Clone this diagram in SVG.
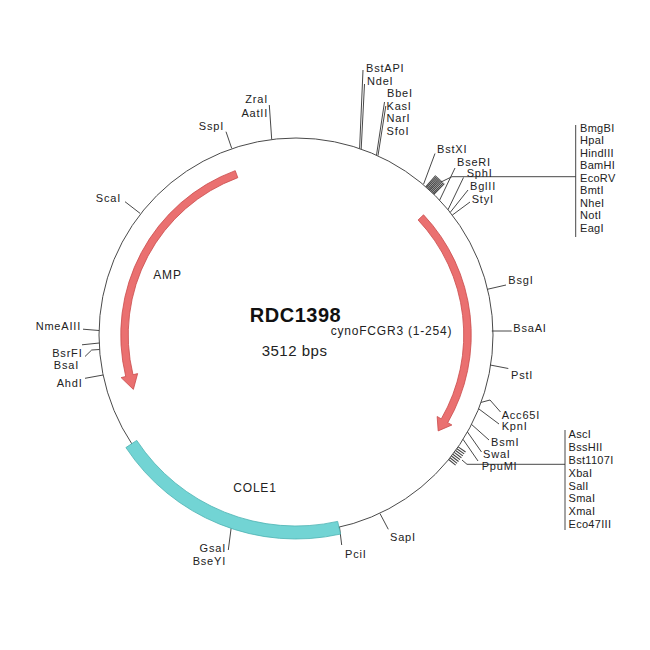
<svg xmlns="http://www.w3.org/2000/svg" width="650" height="650" viewBox="0 0 650 650">
<style>
.bg{fill:#ffffff}
.bb{fill:none;stroke:#4a4a4a;stroke-width:1}
.tk{fill:none;stroke:#333333;stroke-width:0.9}
.cl{fill:none;stroke:#444444;stroke-width:1.1}
.lb{font-family:"Liberation Sans",Arial,sans-serif;font-size:11px;fill:#222222;letter-spacing:0.8px}
.ls{font-family:"Liberation Sans",Arial,sans-serif;font-size:11px;fill:#222222;letter-spacing:0.3px}
.ft{font-family:"Liberation Sans",Arial,sans-serif;font-size:12px;fill:#222222;letter-spacing:0.8px}
.arr{fill:#ea7070;stroke:#c94a4a;stroke-width:0.8}
.ori{fill:#72d4d4;stroke:#4db3b3;stroke-width:0.8}
.end{text-anchor:end}
</style>
<rect class="bg" x="0" y="0" width="650" height="650"/>
<g id="backbone">
<circle class="bb" cx="296" cy="335" r="197"/>
</g>
<g id="connectors">
<path class="tk" d="M231.7,148.3 L226,131.7"/>
<path class="tk" d="M271.7,139.2 L269.3,105"/>
<path class="tk" d="M359.6,148.4 L363,70"/>
<path class="tk" d="M361.2,149 L364.5,84"/>
<path class="tk" d="M376.5,155 L384.5,102"/>
<path class="tk" d="M378,155.6 L385.8,106"/>
<path class="tk" d="M423.6,184.1 L435,153.5"/>
<path class="cl" d="M425.77,186.77 L435.64,175.49 M426.79,187.68 L436.75,176.47 M427.82,188.61 L437.85,177.46 M428.84,189.52 L438.95,178.44 M429.84,190.46 L440.03,179.46 M430.85,191.39 L441.11,180.45 M431.85,192.33 L442.2,181.47 M432.86,193.3 L443.28,182.51 M433.84,194.24 L444.34,183.53"/>
<path class="tk" d="M441,182 L452,176.7 L575.7,176.7 M575.7,125 L575.7,237"/>
<path class="tk" d="M439.6,200.2 L455,168"/>
<path class="tk" d="M448,209.7 L463.5,177.5"/>
<path class="tk" d="M450.2,212.4 L468,190"/>
<path class="tk" d="M452.3,215.1 L470,202"/>
<path class="tk" d="M487.3,289.3 L506,285"/>
<path class="tk" d="M491.8,331 L511.7,331"/>
<path class="tk" d="M490.2,365 L508.3,368.5"/>
<path class="tk" d="M481.1,402.4 L490,400 L500.5,412"/>
<path class="tk" d="M478.7,408.8 L499,424"/>
<path class="tk" d="M471.5,424.4 L489,440"/>
<path class="tk" d="M467.5,432 L481.5,452"/>
<path class="tk" d="M463.1,439.4 L478,461"/>
<path class="cl" d="M458.15,446.86 L465.56,451.97 M456.85,448.73 L464.2,453.92 M455.55,450.56 L462.84,455.84 M454.21,452.39 L461.44,457.76 M452.83,454.2 L459.98,459.65 M451.45,456 L458.55,461.53 M450.05,457.77 L457.09,463.38 M448.66,459.5 L455.63,465.19"/>
<path class="tk" d="M462,460 L467,464.3 L565,464.3 M565,430 L565,530"/>
<path class="tk" d="M140,213.3 L125,201.7"/>
<path class="tk" d="M99.1,330.5 L83,329.2"/>
<path class="tk" d="M99.3,343 L82,344.8"/>
<path class="tk" d="M99.5,349.5 L91.7,350 L85,356.5"/>
<path class="tk" d="M103.1,375 L85,378.3"/>
<path class="tk" d="M232,521.3 L228.3,550"/>
<path class="tk" d="M339.5,527.2 L341.7,545"/>
<path class="tk" d="M380,513.6 L388.3,529.3"/>
</g>
<g id="AMP">
<path class="arr" d="M235.21,170.63 A175.25,175.25 0 0 0 125.73,376.5 L121.11,377.62 L133.37,389.42 L137.63,373.6 L133.01,374.72 A167.75,167.75 0 0 1 237.81,177.67 Z"/>
<text class="ft" x="153.3" y="279.3">AMP</text>
</g>
<g id="cynoFCGR3">
<path class="arr" d="M423.55,214.81 A175.25,175.25 0 0 1 447.77,422.63 L451.88,425 L438.17,430.9 L437.16,416.5 L441.27,418.88 A167.75,167.75 0 0 0 418.09,219.96 Z"/>
<text class="ft" x="330.7" y="335">cynoFCGR3 (1-254)</text>
</g>
<g id="COLE1">
<path class="ori" d="M340.49,534.08 A204,204 0 0 1 125.88,447.59 L136.73,440.41 A191,191 0 0 0 337.66,521.4 Z"/>
<text class="ft" x="233.3" y="491.7">COLE1</text>
</g>
<g id="title">
<text x="295.5" y="321.7" text-anchor="middle" style="font-family:'Liberation Sans',Arial,sans-serif;font-size:20px;font-weight:bold;fill:#111111;letter-spacing:0.5px">RDC1398</text>
<text x="261.7" y="355.7" style="font-family:'Liberation Sans',Arial,sans-serif;font-size:15px;fill:#222222;letter-spacing:0.5px">3512 bps</text>
</g>
<g id="site-SspI"><text class="lb end" x="224" y="129.5">SspI</text></g>
<g id="site-ZraI-AatII"><text class="lb end" x="268" y="103">ZraI</text><text class="lb end" x="268" y="116.5">AatII</text></g>
<g id="site-BstAPI-NdeI"><text class="lb" x="366" y="72">BstAPI</text><text class="lb" x="367" y="84.5">NdeI</text></g>
<g id="site-BbeI-KasI-NarI-SfoI"><text class="lb" x="387" y="97">BbeI</text><text class="lb" x="386.5" y="110">KasI</text><text class="lb" x="386.5" y="122.3">NarI</text><text class="lb" x="386.5" y="135">SfoI</text></g>
<g id="site-BstXI"><text class="lb" x="437" y="152.5">BstXI</text></g>
<g id="site-list-top">
<text class="ls" x="580" y="131.5">BmgBI</text>
<text class="ls" x="580" y="144">HpaI</text>
<text class="ls" x="580" y="156.5">HindIII</text>
<text class="ls" x="580" y="169">BamHI</text>
<text class="ls" x="580" y="181.5">EcoRV</text>
<text class="ls" x="580" y="194">BmtI</text>
<text class="ls" x="580" y="206.5">NheI</text>
<text class="ls" x="580" y="219">NotI</text>
<text class="ls" x="580" y="231.5">EagI</text>
</g>
<g id="site-BseRI"><text class="lb" x="457" y="166">BseRI</text></g>
<g id="site-SphI"><text class="lb" x="466.7" y="176.5">SphI</text></g>
<g id="site-BglII"><text class="lb" x="470" y="189.5">BglII</text></g>
<g id="site-StyI"><text class="lb" x="471.7" y="202.5">StyI</text></g>
<g id="site-BsgI"><text class="lb" x="508.3" y="283.5">BsgI</text></g>
<g id="site-BsaAI"><text class="lb" x="513.3" y="331.5">BsaAI</text></g>
<g id="site-PstI"><text class="lb" x="511" y="378.5">PstI</text></g>
<g id="site-Acc65I-KpnI"><text class="lb" x="501.7" y="419">Acc65I</text><text class="lb" x="501.7" y="429.5">KpnI</text></g>
<g id="site-BsmI"><text class="lb" x="491" y="446">BsmI</text></g>
<g id="site-SwaI"><text class="lb" x="483" y="458.3">SwaI</text></g>
<g id="site-PpuMI"><text class="lb" x="481.7" y="470">PpuMI</text></g>
<g id="site-list-bottom">
<text class="ls" x="568.5" y="437.7">AscI</text>
<text class="ls" x="568.5" y="450.6">BssHII</text>
<text class="ls" x="568.5" y="463.6">Bst1107I</text>
<text class="ls" x="568.5" y="476.5">XbaI</text>
<text class="ls" x="568.5" y="489.5">SalI</text>
<text class="ls" x="568.5" y="502.4">SmaI</text>
<text class="ls" x="568.5" y="515.4">XmaI</text>
<text class="ls" x="568.5" y="528.3">Eco47III</text>
</g>
<g id="site-SapI"><text class="lb" x="390" y="541">SapI</text></g>
<g id="site-PciI"><text class="lb" x="345" y="558">PciI</text></g>
<g id="site-GsaI-BseYI"><text class="lb end" x="226" y="552">GsaI</text><text class="lb end" x="226" y="565">BseYI</text></g>
<g id="site-AhdI"><text class="lb end" x="82.5" y="386.5">AhdI</text></g>
<g id="site-BsrFI-BsaI"><text class="lb end" x="82.5" y="357">BsrFI</text><text class="lb end" x="79" y="368.5">BsaI</text></g>
<g id="site-NmeAIII"><text class="lb end" x="81" y="330">NmeAIII</text></g>
<g id="site-ScaI"><text class="lb end" x="121" y="201.5">ScaI</text></g>
</svg>
